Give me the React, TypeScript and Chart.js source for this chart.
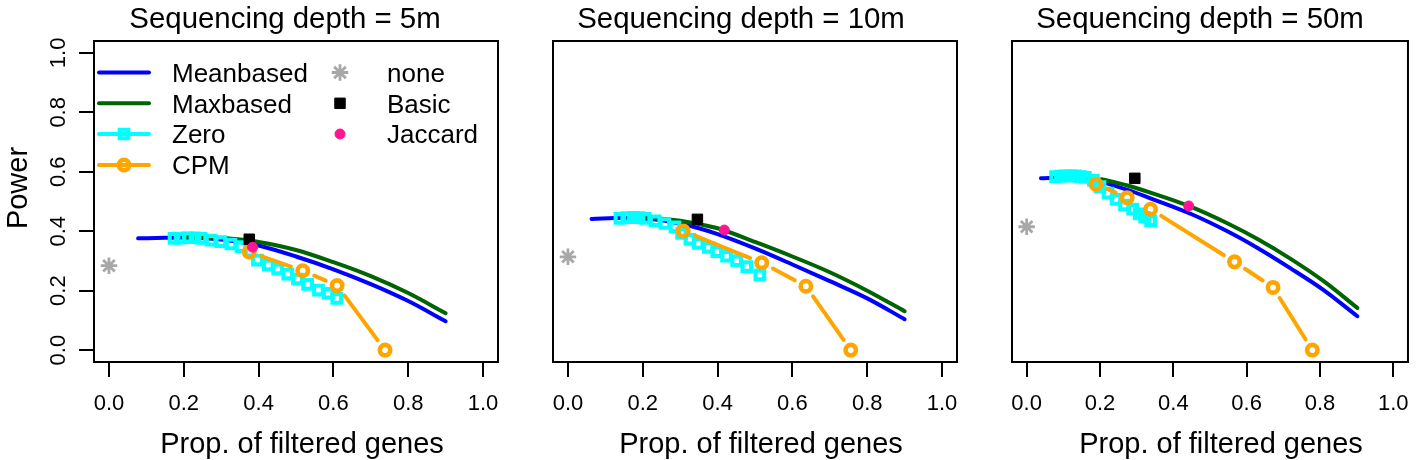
import React, { useEffect, useRef } from 'react';
import { Chart, registerables } from 'chart.js';

Chart.register(...registerables);

const FONT = '"Liberation Sans", Arial, Helvetica, sans-serif';

// ---------- text ----------
const panelTitles = ['Sequencing depth = 5m', 'Sequencing depth = 10m', 'Sequencing depth = 50m'];
const xAxisTitle = 'Prop. of filtered genes';
const yAxisTitle = 'Power';
const seriesNames = ['Meanbased', 'Maxbased', 'Zero', 'CPM', 'none', 'Basic', 'Jaccard'];
const tickValues = [0, 0.2, 0.4, 0.6, 0.8, 1.0];

// ---------- data: depth 5m ----------
const meanX5 = [0.078, 0.15, 0.2, 0.25, 0.3, 0.35, 0.4, 0.5, 0.6, 0.7, 0.8, 0.9];
const meanY5 = [0.376, 0.378, 0.379, 0.377, 0.372, 0.364, 0.352, 0.315, 0.272, 0.222, 0.165, 0.097];
const maxX5 = [0.2, 0.25, 0.3, 0.35, 0.4, 0.5, 0.6, 0.7, 0.8, 0.9];
const maxY5 = [0.381, 0.38, 0.377, 0.372, 0.364, 0.337, 0.296, 0.249, 0.192, 0.124];
const zeroX5 = [0.174, 0.19, 0.212, 0.23, 0.246, 0.273, 0.299, 0.326, 0.353, 0.377, 0.397, 0.426, 0.451, 0.478, 0.504, 0.531, 0.56, 0.586, 0.609];
const zeroY5 = [0.376, 0.377, 0.378, 0.378, 0.376, 0.37, 0.365, 0.357, 0.348, 0.333, 0.303, 0.286, 0.273, 0.256, 0.239, 0.221, 0.202, 0.191, 0.174];
const cpmX5 = [0.375, 0.518, 0.61, 0.738];
const cpmY5 = [0.33, 0.267, 0.217, 0.0];
const noneX5 = [0.0];
const noneY5 = [0.284];
const basicX5 = [0.375];
const basicY5 = [0.373];
const jaccardX5 = [0.384];
const jaccardY5 = [0.346];

// ---------- data: depth 10m ----------
const meanX10 = [0.063, 0.15, 0.2, 0.25, 0.3, 0.35, 0.4, 0.5, 0.6, 0.7, 0.8, 0.9];
const meanY10 = [0.441, 0.445, 0.443, 0.437, 0.425, 0.41, 0.39, 0.342, 0.288, 0.232, 0.174, 0.104];
const maxX10 = [0.166, 0.2, 0.25, 0.3, 0.35, 0.4, 0.5, 0.6, 0.7, 0.8, 0.9];
const maxY10 = [0.447, 0.446, 0.442, 0.435, 0.424, 0.41, 0.364, 0.315, 0.262, 0.2, 0.131];
const zeroX10 = [0.139, 0.157, 0.175, 0.19, 0.206, 0.233, 0.259, 0.286, 0.304, 0.326, 0.348, 0.375, 0.398, 0.424, 0.451, 0.478, 0.513];
const zeroY10 = [0.443, 0.446, 0.447, 0.446, 0.443, 0.435, 0.426, 0.415, 0.393, 0.373, 0.359, 0.346, 0.331, 0.316, 0.301, 0.281, 0.253];
const cpmX10 = [0.308, 0.518, 0.636, 0.756];
const cpmY10 = [0.401, 0.294, 0.215, 0.0];
const noneX10 = [0.0];
const noneY10 = [0.314];
const basicX10 = [0.346];
const basicY10 = [0.44];
const jaccardX10 = [0.418];
const jaccardY10 = [0.404];

// ---------- data: depth 50m ----------
const meanX50 = [0.039, 0.1, 0.15, 0.2, 0.275, 0.35, 0.45, 0.55, 0.632, 0.72, 0.81, 0.902];
const meanY50 = [0.578, 0.58, 0.578, 0.567, 0.539, 0.505, 0.457, 0.398, 0.342, 0.275, 0.202, 0.114];
const maxX50 = [0.204, 0.275, 0.35, 0.442, 0.55, 0.632, 0.72, 0.81, 0.902];
const maxY50 = [0.575, 0.554, 0.525, 0.485, 0.425, 0.372, 0.307, 0.232, 0.142];
const zeroX50 = [0.079, 0.092, 0.106, 0.12, 0.133, 0.147, 0.16, 0.182, 0.2, 0.222, 0.244, 0.267, 0.289, 0.307, 0.322, 0.338];
const zeroY50 = [0.584, 0.585, 0.586, 0.586, 0.586, 0.584, 0.581, 0.572, 0.55, 0.528, 0.507, 0.488, 0.474, 0.458, 0.447, 0.435];
const cpmX50 = [0.189, 0.274, 0.338, 0.567, 0.672, 0.779];
const cpmY50 = [0.558, 0.513, 0.474, 0.297, 0.211, 0.0];
const noneX50 = [0.0];
const noneY50 = [0.415];
const basicX50 = [0.295];
const basicY50 = [0.578];
const jaccardX50 = [0.442];
const jaccardY50 = [0.485];

const panelData = [
  { mean: [meanX5, meanY5], max: [maxX5, maxY5], zero: [zeroX5, zeroY5], cpm: [cpmX5, cpmY5], none: [noneX5, noneY5], basic: [basicX5, basicY5], jaccard: [jaccardX5, jaccardY5] },
  { mean: [meanX10, meanY10], max: [maxX10, maxY10], zero: [zeroX10, zeroY10], cpm: [cpmX10, cpmY10], none: [noneX10, noneY10], basic: [basicX10, basicY10], jaccard: [jaccardX10, jaccardY10] },
  { mean: [meanX50, meanY50], max: [maxX50, maxY50], zero: [zeroX50, zeroY50], cpm: [cpmX50, cpmY50], none: [noneX50, noneY50], basic: [basicX50, basicY50], jaccard: [jaccardX50, jaccardY50] },
];

// ---------- layout (pixels) ----------
const W = 1423;
const H = 460;
const PLOT_TOP = 41;
const PLOT_BOTTOM = 362;
const Y_AXIS_W = 15;
const panelBoxes = [
  { left: 94, right: 498, titleX: 285, xTitleX: 302 },
  { left: 553, right: 957, titleX: 741, xTitleX: 761 },
  { left: 1012, right: 1416, titleX: 1200, xTitleX: 1221 },
];

const COLORS = {
  mean: '#0000FF',
  max: '#006400',
  zero: '#00FFFF',
  cpm: '#FFA500',
  none: '#A8A8A8',
  basic: '#000000',
  jaccard: '#FF1493',
};

const LINE_W = 4;

function pts(xs: number[], ys: number[]) {
  return xs.map((x, i) => ({ x, y: ys[i] }));
}

function buildDatasets(p: number): any[] {
  const d = panelData[p];
  return [
    {
      label: seriesNames[0], data: pts(d.mean[0], d.mean[1]), borderColor: COLORS.mean, backgroundColor: COLORS.mean,
      borderWidth: LINE_W, pointRadius: 0, cubicInterpolationMode: 'monotone', borderCapStyle: 'round', order: 7, legendKind: 'line',
    },
    {
      label: seriesNames[1], data: pts(d.max[0], d.max[1]), borderColor: COLORS.max, backgroundColor: COLORS.max,
      borderWidth: LINE_W, pointRadius: 0, cubicInterpolationMode: 'monotone', borderCapStyle: 'round', order: 6, legendKind: 'line',
    },
    {
      label: seriesNames[2], data: pts(d.zero[0], d.zero[1]), borderColor: COLORS.zero, showLine: false,
      pointStyle: 'rect', pointRadius: 6.1, pointBorderWidth: 4.1, pointBorderColor: COLORS.zero, pointBackgroundColor: 'rgba(0,0,0,0)',
      gapLine: true, gapLineWidth: LINE_W, gapSize: 12.5, order: 5, legendKind: 'both',
    },
    {
      label: seriesNames[3], data: pts(d.cpm[0], d.cpm[1]), borderColor: COLORS.cpm, showLine: false,
      pointStyle: 'circle', pointRadius: 5.2, pointBorderWidth: 4.6, pointBorderColor: COLORS.cpm, pointBackgroundColor: 'rgba(0,0,0,0)',
      gapLine: true, gapLineWidth: LINE_W, gapSize: 12.5, order: 4, legendKind: 'both',
    },
    {
      label: seriesNames[4], data: pts(d.none[0], d.none[1]), borderColor: COLORS.none, showLine: false,
      pointStyle: 'star', pointRadius: 8.2, pointBorderWidth: 2.8, pointBorderColor: COLORS.none, pointBackgroundColor: COLORS.none,
      order: 3, legendKind: 'point',
    },
    {
      label: seriesNames[5], data: pts(d.basic[0], d.basic[1]), borderColor: COLORS.basic, showLine: false,
      pointStyle: 'rect', pointRadius: 7.4, pointBorderWidth: 1, pointBorderColor: COLORS.basic, pointBackgroundColor: COLORS.basic,
      order: 2, legendKind: 'point',
    },
    {
      label: seriesNames[6], data: pts(d.jaccard[0], d.jaccard[1]), borderColor: COLORS.jaccard, showLine: false,
      pointStyle: 'circle', pointRadius: 5, pointBorderWidth: 1, pointBorderColor: COLORS.jaccard, pointBackgroundColor: COLORS.jaccard,
      order: 1, legendKind: 'point',
    },
  ];
}

function drawMarker(ctx: CanvasRenderingContext2D, style: string, x: number, y: number, r: number, stroke: string, lw: number, fill: string) {
  ctx.save();
  ctx.lineWidth = lw;
  ctx.strokeStyle = stroke;
  ctx.fillStyle = fill;
  ctx.beginPath();
  if (style === 'circle') {
    ctx.arc(x, y, r, 0, Math.PI * 2);
    ctx.closePath();
    ctx.fill();
    if (lw > 0) ctx.stroke();
  } else if (style === 'rect') {
    const s = Math.SQRT1_2 * r;
    ctx.rect(x - s, y - s, 2 * s, 2 * s);
    ctx.fill();
    if (lw > 0) ctx.stroke();
  } else if (style === 'star') {
    const o = Math.SQRT1_2 * r;
    ctx.moveTo(x, y - r); ctx.lineTo(x, y + r);
    ctx.moveTo(x - r, y); ctx.lineTo(x + r, y);
    ctx.moveTo(x - o, y - o); ctx.lineTo(x + o, y + o);
    ctx.moveTo(x - o, y + o); ctx.lineTo(x + o, y - o);
    ctx.stroke();
  }
  ctx.restore();
}

const rStylePlugin = {
  id: 'rstyle',
  beforeDatasetDraw(chart: any, args: any) {
    const ds = chart.data.datasets[args.index];
    if (!ds.gapLine) return;
    const elems = args.meta.data;
    const ctx: CanvasRenderingContext2D = chart.ctx;
    const a = chart.chartArea;
    ctx.save();
    ctx.beginPath();
    ctx.rect(a.left, a.top, a.right - a.left, a.bottom - a.top);
    ctx.clip();
    ctx.strokeStyle = ds.borderColor;
    ctx.lineWidth = ds.gapLineWidth;
    ctx.lineCap = 'round';
    const g = ds.gapSize;
    for (let i = 0; i < elems.length - 1; i++) {
      const p = elems[i];
      const q = elems[i + 1];
      const dx = q.x - p.x;
      const dy = q.y - p.y;
      const d = Math.hypot(dx, dy);
      if (d <= 2 * g + 2) continue;
      const ux = dx / d;
      const uy = dy / d;
      ctx.beginPath();
      ctx.moveTo(p.x + ux * g, p.y + uy * g);
      ctx.lineTo(q.x - ux * g, q.y - uy * g);
      ctx.stroke();
    }
    ctx.restore();
  },
  afterDraw(chart: any, _args: any, opts: any) {
    const ctx: CanvasRenderingContext2D = chart.ctx;
    const a = chart.chartArea;
    ctx.save();
    // box
    ctx.strokeStyle = '#000';
    ctx.lineWidth = 2;
    ctx.strokeRect(a.left, a.top, a.right - a.left, a.bottom - a.top);

    ctx.fillStyle = '#000';
    // title
    ctx.font = `29.4px ${FONT}`;
    ctx.textAlign = 'center';
    ctx.textBaseline = 'alphabetic';
    ctx.fillText(opts.title, opts.titleX, 27.5);
    // x axis title
    ctx.font = `29px ${FONT}`;
    ctx.fillText(opts.xTitle, opts.xTitleX, 452.5);

    if (opts.showY) {
      const ys = chart.scales.y;
      // y tick labels (rotated, parallel to axis)
      ctx.font = `22px ${FONT}`;
      ys.ticks.forEach((t: any) => {
        const py = ys.getPixelForValue(t.value);
        ctx.save();
        ctx.translate(65, py);
        ctx.rotate(-Math.PI / 2);
        ctx.textAlign = 'center';
        ctx.fillText(t.value.toFixed(1), 0, 0);
        ctx.restore();
      });
      // y axis title
      ctx.save();
      ctx.font = `29px ${FONT}`;
      ctx.translate(27, 188);
      ctx.rotate(-Math.PI / 2);
      ctx.textAlign = 'center';
      ctx.fillText(opts.yTitle, 0, 0);
      ctx.restore();
    }

    if (opts.legend) {
      const L = opts.legend;
      ctx.font = `26px ${FONT}`;
      ctx.textAlign = 'left';
      chart.data.datasets.forEach((ds: any, i: number) => {
        const col = i < 4 ? 0 : 1;
        const row = col === 0 ? i : i - 4;
        const cy = L.rowY[row];
        if (col === 0) {
          if (ds.legendKind === 'line' || ds.legendKind === 'both') {
            ctx.save();
            ctx.strokeStyle = ds.borderColor;
            ctx.lineWidth = ds.gapLineWidth || ds.borderWidth;
            ctx.lineCap = 'round';
            ctx.beginPath();
            ctx.moveTo(L.lineX0, cy);
            ctx.lineTo(L.lineX1, cy);
            ctx.stroke();
            ctx.restore();
          }
          if (ds.legendKind === 'both') {
            drawMarker(ctx, ds.pointStyle, (L.lineX0 + L.lineX1) / 2, cy, ds.pointRadius, ds.pointBorderColor, ds.pointBorderWidth, ds.pointBackgroundColor);
          }
          ctx.fillStyle = '#000';
          ctx.fillText(ds.label, L.textX0, cy + 9.3);
        } else {
          drawMarker(ctx, ds.pointStyle, L.symX1, cy, ds.pointRadius, ds.pointBorderColor, ds.pointBorderWidth, ds.pointBackgroundColor);
          ctx.fillStyle = '#000';
          ctx.fillText(ds.label, L.textX1, cy + 9.3);
        }
      });
    }
    ctx.restore();
  },
};

function Panel({ index }: { index: number }) {
  const ref = useRef<HTMLCanvasElement | null>(null);
  useEffect(() => {
    if (!ref.current) return;
    const box = panelBoxes[index];
    const showY = index === 0;
    const X_AXIS_H = H - PLOT_BOTTOM;
    const chart = new Chart(ref.current, {
      type: 'line',
      data: { datasets: buildDatasets(index) },
      plugins: [rStylePlugin],
      options: {
        responsive: false,
        animation: false,
        devicePixelRatio: 1,
        events: [],
        layout: {
          padding: {
            left: box.left - Y_AXIS_W,
            right: W - box.right,
            top: PLOT_TOP,
            bottom: 0,
          },
        },
        scales: {
          x: {
            type: 'linear',
            min: -0.04,
            max: 1.04,
            afterBuildTicks: (s: any) => { s.ticks = tickValues.map((v) => ({ value: v })); },
            afterFit: (s: any) => { s.height = X_AXIS_H; },
            ticks: {
              autoSkip: false,
              maxRotation: 0,
              minRotation: 0,
              padding: 14,
              color: '#000',
              font: { family: FONT, size: 22 },
              callback: (v: any) => Number(v).toFixed(1),
            },
            grid: { drawOnChartArea: false, drawTicks: true, tickLength: 15, color: '#000', lineWidth: 2 },
            border: { display: true, color: '#000', width: 2 },
          },
          y: {
            type: 'linear',
            display: showY,
            min: -0.04,
            max: 1.04,
            afterBuildTicks: (s: any) => { s.ticks = tickValues.map((v) => ({ value: v })); },
            afterFit: (s: any) => { s.width = Y_AXIS_W; },
            ticks: { display: false },
            grid: { drawOnChartArea: false, drawTicks: true, tickLength: 15, color: '#000', lineWidth: 2 },
            border: { display: true, color: '#000', width: 2 },
          },
        },
        plugins: {
          legend: { display: false },
          tooltip: { enabled: false },
          title: { display: false },
          rstyle: {
            title: panelTitles[index],
            titleX: box.titleX,
            xTitle: xAxisTitle,
            xTitleX: box.xTitleX,
            yTitle: yAxisTitle,
            showY,
            legend: index === 0
              ? { lineX0: 99, lineX1: 149, textX0: 172, symX1: 340, textX1: 387, rowY: [72.5, 103.3, 134, 165] }
              : null,
          },
        } as any,
      } as any,
    });
    return () => chart.destroy();
  }, [index]);
  return (
    <canvas
      ref={ref}
      width={W}
      height={H}
      style={{ position: 'absolute', left: 0, top: 0, width: W, height: H }}
    />
  );
}

export default function App() {
  return (
    <div style={{ position: 'absolute', left: 0, top: 0, width: W, height: H, background: '#fff' }}>
      <Panel index={0} />
      <Panel index={1} />
      <Panel index={2} />
    </div>
  );
}
